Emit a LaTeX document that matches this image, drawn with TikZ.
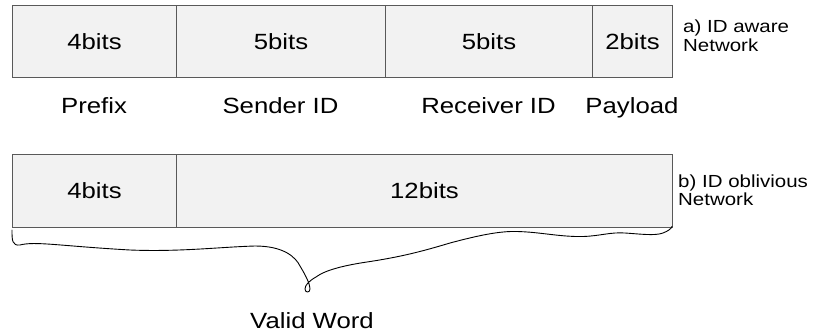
\documentclass[tikz,border=0pt]{standalone}
\usepackage{fontspec}
\setmainfont[FakeStretch=1.17]{Liberation Sans}
\definecolor{cellfill}{HTML}{F2F2F2}
\definecolor{cellline}{HTML}{595959}
\tikzset{
  cell/.style={draw=cellline, fill=cellfill, line width=1pt, inner sep=0pt,
    anchor=north west, minimum height=72pt,
    font=\fontsize{22}{26}\selectfont},
  lbl/.style={inner sep=0pt, anchor=base, font=\fontsize{22}{26}\selectfont},
  side/.style={inner sep=0pt, anchor=base west, font=\fontsize{17.5}{19}\selectfont},
  bracepath/.style={draw=black, line width=0.9pt, line cap=round, line join=round}
}
\begin{document}
\begin{tikzpicture}[x=1pt, y=-1pt]
\useasboundingbox (0,0) rectangle (816,332);
% a) ID aware network
\node[cell, minimum width=164pt] (a1) at (12,5) {4bits};
\node[cell, minimum width=209pt] (a2) at (176,5) {5bits};
\node[cell, minimum width=207pt] (a3) at (385,5) {5bits};
\node[cell, minimum width=80pt]  (a4) at (592,5) {2bits};
\node[lbl] (p1) at (94,113) {Prefix};
\node[lbl] (p2) at (280.5,113) {Sender ID};
\node[lbl] (p3) at (488.5,113) {Receiver ID};
\node[lbl] (p4) at (632,113) {Payload};
\node[side] (sa1) at (683,32) {a) ID aware};
\node[side] (sa2) at (683,51) {Network};
% b) ID oblivious network
\node[cell, minimum width=164pt, minimum height=73pt] (b1) at (12,154) {4bits};
\node[cell, minimum width=496pt, minimum height=73pt] (b2) at (176,154) {12bits};
\node[side] (sb1) at (678,187) {b) ID oblivious};
\node[side] (sb2) at (678,205.5) {Network};
% brace
\draw[bracepath] (12,230) .. controls (12,240) and (12,246) .. (20,245)
  .. controls (35,241) and (60,246) .. (130,250)
  .. controls (180,252) and (220,247) .. (255,246)
  .. controls (285,246) and (296,258) .. (300,266)
  .. controls (306,276) and (310,284) .. (310,289)
  .. controls (310,293) and (305,293) .. (305,289)
  .. controls (305,285) and (309,281) .. (316,277)
  .. controls (324,271) and (340,266) .. (367,262)
  .. controls (400,257) and (420,252) .. (450,243)
  .. controls (480,235) and (500,231) .. (517,231.5)
  .. controls (540,232) and (560,237) .. (583,236.5)
  .. controls (600,236) and (610,232) .. (625,233)
  .. controls (640,234) and (655,236) .. (663,233)
  .. controls (668,231) and (671,229) .. (672,226.5);
\node[lbl] (vw) at (312,328) {Valid Word};
\end{tikzpicture}
\end{document}
